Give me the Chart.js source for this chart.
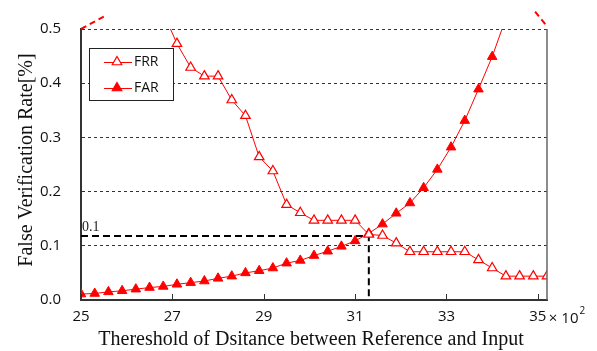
<!DOCTYPE html>
<html>
<head>
<meta charset="utf-8">
<script src="https://cdn.jsdelivr.net/npm/chart.js@4/dist/chart.umd.min.js"></script>
<style>
  html, body { margin: 0; padding: 0; background: #fff; }
  #wrap { width: 597px; height: 351px; }
</style>
</head>
<body>
<div id="wrap"><canvas id="myChart" width="597" height="351"></canvas></div>
<script>
// threshold values (x 10^2)
var thresholds = [25.0, 25.3, 25.6, 25.9, 26.2, 26.5, 26.8, 27.1, 27.4, 27.7, 28.0, 28.3,
    28.6, 28.9, 29.2, 29.5, 29.8, 30.1, 30.4, 30.7, 31.0, 31.3, 31.6, 31.9, 32.2, 32.5,
    32.8, 33.1, 33.4, 33.7, 34.0, 34.3, 34.6, 34.9, 35.2];
var frr = [0.95, 0.86, 0.78, 0.71, 0.64, 0.58, 0.53, 0.473, 0.429, 0.413, 0.413, 0.369,
    0.340, 0.264, 0.238, 0.176, 0.161, 0.147, 0.147, 0.147, 0.147, 0.121, 0.119, 0.105,
    0.089, 0.089, 0.089, 0.089, 0.089, 0.074, 0.059, 0.044, 0.044, 0.044, 0.044];
var far = [0.011, 0.012, 0.015, 0.017, 0.020, 0.023, 0.025, 0.029, 0.032, 0.035, 0.040,
    0.044, 0.050, 0.054, 0.059, 0.068, 0.073, 0.082, 0.090, 0.099, 0.109, 0.123, 0.140,
    0.160, 0.179, 0.207, 0.241, 0.282, 0.331, 0.389, 0.449, 0.52, 0.60, 0.69, 0.79];
// crossing point marked by the black dashed guide
var eerX = [25, 31.3, 31.3];
var eerY = [0.118, 0.118, 0];
// red dashed stubs above the plot corners
var edgeX = [25, 25.5, 30, 34.94, 35.2];
var edgeY = [0.5, 0.523, null, 0.532, 0.505];
var xTicks = [25, 27, 29, 31, 33, 35];
var yTicks = [0, 0.1, 0.2, 0.3, 0.4, 0.5];

var red = "#ff0000";
var tickFont = "'Open Sans', sans-serif";
var serif = "'Liberation Serif', 'Times New Roman', serif";

function toPoints(xs, ys) {
    var pts = [];
    for (var i = 0; i < xs.length; i++) {
        pts.push({x: xs[i], y: ys[i]});
    }
    return pts;
}

function drawTri(ctx, x, y, r, filled) {
    ctx.beginPath();
    ctx.moveTo(x, y - r);
    ctx.lineTo(x + r * 0.866, y + r * 0.5);
    ctx.lineTo(x - r * 0.866, y + r * 0.5);
    ctx.closePath();
    ctx.fillStyle = filled ? red : "#fff";
    ctx.fill();
    ctx.strokeStyle = red;
    ctx.lineWidth = 1.2;
    ctx.stroke();
}

var extras = {
    id: 'extras',
    afterDraw: function (chart) {
        var ctx = chart.ctx;
        var a = chart.chartArea;
        var xs = chart.scales.x;
        var ys = chart.scales.y;
        ctx.save();
        // right frame line
        ctx.strokeStyle = "#666";
        ctx.lineWidth = 1.5;
        ctx.beginPath();
        ctx.moveTo(a.right, a.top);
        ctx.lineTo(a.right, a.bottom);
        ctx.stroke();
        // inward x tick marks
        ctx.strokeStyle = "#333";
        ctx.lineWidth = 1;
        xTicks.forEach(function (v) {
            var px = Math.round(xs.getPixelForValue(v)) + 0.5;
            ctx.beginPath();
            ctx.moveTo(px, a.bottom);
            ctx.lineTo(px, a.bottom - 6);
            ctx.stroke();
        });
        // exponent next to last tick
        ctx.fillStyle = "#111";
        ctx.font = "15px " + tickFont;
        ctx.textBaseline = "alphabetic";
        ctx.textAlign = "left";
        var px35 = xs.getPixelForValue(35);
        var base = "\u00d7 10";
        ctx.fillText(base, px35 + 11, 323);
        var w = ctx.measureText(base).width;
        ctx.font = "10px " + tickFont;
        ctx.fillText("2", px35 + 12 + w, 314);
        // guide label
        ctx.font = "14px " + serif;
        ctx.fillStyle = "#222";
        ctx.fillText("0.1", a.left + 1, 231);
        // legend
        var lx = 89, ly = 48, lw = 84, lh = 52;
        ctx.fillStyle = "#fff";
        ctx.fillRect(lx, ly, lw, lh);
        ctx.strokeStyle = "#222";
        ctx.lineWidth = 1;
        ctx.strokeRect(lx + 0.5, ly + 0.5, lw, lh);
        var rows = [{label: "FRR", y: 62, filled: false}, {label: "FAR", y: 88, filled: true}];
        rows.forEach(function (r) {
            ctx.strokeStyle = red;
            ctx.lineWidth = 1;
            ctx.beginPath();
            ctx.moveTo(104, r.y + 0.5);
            ctx.lineTo(132, r.y + 0.5);
            ctx.stroke();
            drawTri(ctx, 117, r.y, 5.5, r.filled);
            ctx.fillStyle = "#111";
            ctx.font = "14px " + tickFont;
            ctx.textBaseline = "middle";
            ctx.textAlign = "left";
            ctx.fillText(r.label, 134, r.y);
        });
        // axis titles
        ctx.fillStyle = "#111";
        ctx.font = "20px " + serif;
        ctx.textAlign = "center";
        ctx.textBaseline = "alphabetic";
        ctx.fillText("Thereshold of Dsitance between Reference and Input", 311, 345);
        ctx.translate(32, 160);
        ctx.rotate(-Math.PI / 2);
        ctx.fillText("False Verification Rate[%]", 0, 0);
        ctx.restore();
    }
};

var ctx = document.getElementById('myChart').getContext('2d');
var myChart = new Chart(ctx, {
    type: 'line',
    data: {
        datasets: [{
            label: 'FRR',
            data: toPoints(thresholds, frr),
            borderColor: red,
            borderWidth: 1,
            pointStyle: 'triangle',
            pointRadius: 5.5,
            pointBackgroundColor: "#fff",
            pointBorderColor: red,
            pointBorderWidth: 1.2,
            tension: 0
        }, {
            label: 'FAR',
            data: toPoints(thresholds, far),
            borderColor: red,
            borderWidth: 1,
            pointStyle: 'triangle',
            pointRadius: 5.5,
            pointBackgroundColor: red,
            pointBorderColor: red,
            pointBorderWidth: 1,
            tension: 0
        }, {
            label: 'guide',
            data: toPoints(eerX, eerY),
            borderColor: "#000",
            borderWidth: 2,
            borderDash: [7, 4],
            pointRadius: 0,
            tension: 0
        }, {
            label: 'edge',
            data: toPoints(edgeX, edgeY),
            borderColor: red,
            borderWidth: 2,
            borderDash: [6, 4],
            pointRadius: 0,
            spanGaps: false,
            clip: false,
            tension: 0
        }]
    },
    options: {
        responsive: false,
        animation: false,
        layout: {padding: {top: 18, right: 50, left: 0, bottom: 0}},
        plugins: {
            legend: {display: false},
            tooltip: {enabled: false}
        },
        scales: {
            x: {
                type: 'linear',
                min: 25,
                max: 35.2,
                afterBuildTicks: function (scale) {
                    scale.ticks = xTicks.map(function (v) { return {value: v}; });
                },
                afterFit: function (scale) { scale.height = 51; },
                grid: {display: false, drawTicks: false},
                border: {display: true, color: "#333", width: 2},
                ticks: {
                    color: "#111",
                    font: {family: "Open Sans", size: 15},
                    padding: 8,
                    maxRotation: 0,
                    callback: function (v) { return v; }
                }
            },
            y: {
                type: 'linear',
                min: 0,
                max: 0.5,
                afterBuildTicks: function (scale) {
                    scale.ticks = yTicks.map(function (v) { return {value: v}; });
                },
                afterFit: function (scale) { scale.width = 81; },
                grid: {
                    drawTicks: false,
                    color: function (c) { return c.tick && c.tick.value === 0 ? "rgba(0,0,0,0)" : "#333"; },
                    lineWidth: 1
                },
                border: {display: true, color: "#333", width: 2, dash: [3, 3]},
                ticks: {
                    color: "#111",
                    font: {family: "Open Sans", size: 15},
                    padding: 20,
                    callback: function (v) { return v.toFixed(1); }
                }
            }
        }
    },
    plugins: [extras]
});
</script>
</body>
</html>
